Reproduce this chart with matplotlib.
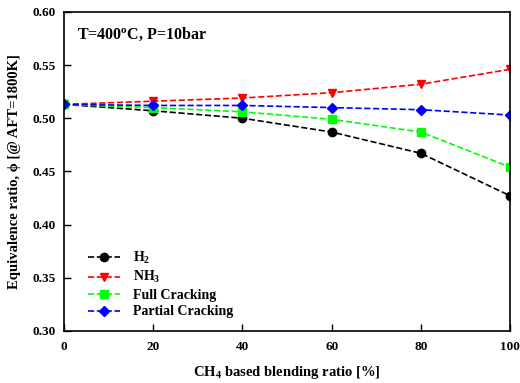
import matplotlib
matplotlib.use("Agg")
import matplotlib.pyplot as plt

# CH4 based blending ratio [%]
blend = [0, 20, 40, 60, 80, 100]

# equivalence ratio at AFT = 1800 K for each fuel
phi_h2 = [0.513, 0.507, 0.500, 0.487, 0.467, 0.427]
phi_nh3 = [0.513, 0.516, 0.519, 0.524, 0.532, 0.546]
phi_full = [0.513, 0.510, 0.506, 0.499, 0.487, 0.454]
phi_partial = [0.513, 0.512, 0.512, 0.510, 0.508, 0.503]

labels = ["H$_2$", "NH$_3$", "Full Cracking", "Partial Cracking"]

plt.rcParams["font.family"] = "Liberation Serif"
plt.rcParams["font.weight"] = "bold"
plt.rcParams["axes.labelweight"] = "bold"
plt.rcParams["mathtext.fontset"] = "custom"
plt.rcParams["mathtext.rm"] = "Liberation Serif:bold"
plt.rcParams["mathtext.it"] = "Liberation Serif:bold"
plt.rcParams["mathtext.bf"] = "Liberation Serif:bold"

fig = plt.figure(figsize=(5.2, 3.83), dpi=100)
ax = fig.add_axes([0.123, 0.136, 0.858, 0.833])

ax.plot(blend, phi_h2, "--", color="black", marker="o", ms=6, lw=1.2, label=labels[0])
ax.plot(blend, phi_nh3, "--", color="red", marker="v", ms=6, lw=1.2, label=labels[1])
ax.plot(blend, phi_full, "--", color="#00ff00", marker="s", ms=5.5, lw=1.2, label=labels[2])
ax.plot(blend, phi_partial, "--", color="blue", marker="D", ms=5.5, lw=1.2, label=labels[3])

ax.set_xlim(0, 100)
ax.set_ylim(0.30, 0.60)
ax.set_xticks([0, 20, 40, 60, 80, 100])
ax.set_yticks([0.30, 0.35, 0.40, 0.45, 0.50, 0.55, 0.60])
ax.set_yticklabels(["%.2f" % v for v in ax.get_yticks()])
ax.tick_params(direction="in", length=5, width=1, labelsize=9.5, pad=6)
ax.tick_params(axis="x", pad=7)
for s in ax.spines.values():
    s.set_linewidth(1.2)

ax.set_xlabel("CH$_4$ based blending ratio [%]", fontsize=10.5, labelpad=8)
ax.set_ylabel("Equivalence ratio, \u03d5 [@ AFT=1800K]", fontsize=10.5, labelpad=8)

ax.text(0.03, 0.93, "T=400$^{\\mathrm{o}}$C, P=10bar", transform=ax.transAxes,
        fontsize=11.5, va="center", ha="left")

ax.legend(loc="lower left", bbox_to_anchor=(0.025, 0.0), frameon=False, fontsize=10,
          handlelength=2.3, labelspacing=0.25, handletextpad=1.0)

fig.savefig("out.png", dpi=100)
